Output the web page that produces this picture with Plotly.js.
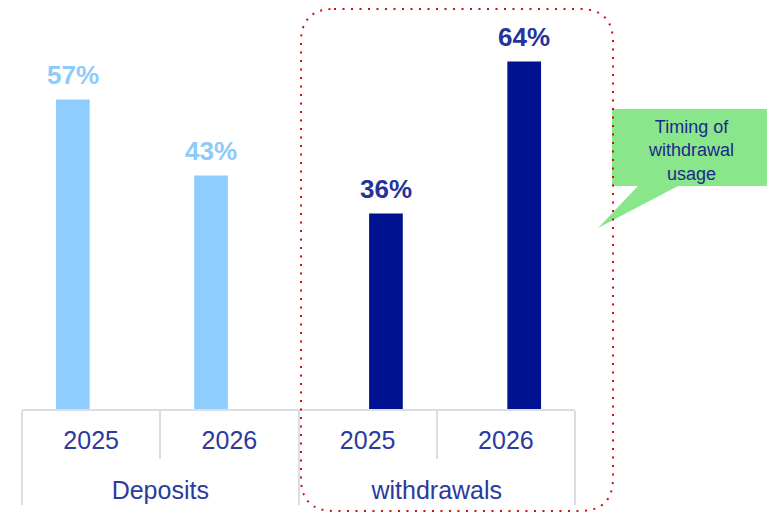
<!DOCTYPE html>
<html>
<head>
<meta charset="utf-8">
<script src="https://cdn.plot.ly/plotly-3.0.1.min.js"></script>
<style>html,body{margin:0;padding:0;background:#fff;}#chart{width:769px;height:514px;}</style>
</head>
<body>
<div id="chart"></div>
<script>
// ---- data ----
const groups = ['Deposits', 'Deposits', 'withdrawals', 'withdrawals'];
const years = ['2025', '2026', '2025', '2026'];
const depositShare = [57, 43, null, null];
const withdrawalShare = [null, null, 36, 64];
const calloutText = 'Timing of<br>withdrawal<br>usage';

// ---- layout geometry ----
const W = 769, H = 514;
const M = {l: 22, r: 194, t: 10, b: 105};
const PW = W - M.l - M.r, PH = H - M.t - M.b;
const fx = px => (px - M.l) / PW;
const fy = py => (M.t + PH - py) / PH;

const font = 'Arial, "Liberation Sans", sans-serif';
const light = '#8ECDFD', dark = '#00128F';
const lightText = '#8DCBFB', darkText = '#26339A';
const gridGray = '#DADDE3';
const BARGAP = 0.47;

const big = s => '<span style="font-size:25px">' + s + '</span>';
const xLevels = [groups.map(g => '<br>' + big(g)), years.map(big)];

const traces = [
  {type: 'bar', name: 'Deposits', x: xLevels, y: depositShare,
   marker: {color: light}, hoverinfo: 'skip'},
  {type: 'bar', name: 'withdrawals', x: xLevels, y: withdrawalShare,
   marker: {color: dark}, hoverinfo: 'skip'}
];

// value labels above bars, anchored to each bar's category index and value
const slotPx = (1 - BARGAP) / 4 * (PW / years.length);
const valueLabels = [];
[[depositShare, -slotPx, lightText], [withdrawalShare, slotPx, darkText]].forEach(([vals, dx, col]) => {
  vals.forEach((v, i) => {
    if (v == null) return;
    valueLabels.push({xref: 'x', yref: 'y', x: i, y: v, xshift: dx, yshift: 8,
      text: v + '%', showarrow: false, xanchor: 'center', yanchor: 'bottom',
      font: {family: font, size: 26, color: col, weight: 'bold'}});
  });
});

function roundRect(x0, y0, x1, y1, r) {
  const P = (x, y) => fx(x).toFixed(5) + ',' + fy(y).toFixed(5);
  return 'M' + P(x0 + r, y0) + ' L' + P(x1 - r, y0) + ' Q' + P(x1, y0) + ' ' + P(x1, y0 + r) +
    ' L' + P(x1, y1 - r) + ' Q' + P(x1, y1) + ' ' + P(x1 - r, y1) +
    ' L' + P(x0 + r, y1) + ' Q' + P(x0, y1) + ' ' + P(x0, y1 - r) +
    ' L' + P(x0, y0 + r) + ' Q' + P(x0, y0) + ' ' + P(x0 + r, y0) + ' Z';
}
function poly(pts) {
  return 'M' + pts.map(p => fx(p[0]).toFixed(5) + ',' + fy(p[1]).toFixed(5)).join(' L') + ' Z';
}

const layout = {
  width: W, height: H,
  margin: M,
  paper_bgcolor: '#fff', plot_bgcolor: '#fff',
  showlegend: false,
  barmode: 'group', bargap: BARGAP, bargroupgap: 0.08,
  font: {family: font, color: '#2B3A9E'},
  xaxis: {type: 'multicategory', showline: true, linecolor: gridGray, linewidth: 2,
    ticks: 'outside', ticklen: 48, tickwidth: 2, tickcolor: gridGray,
    showdividers: true, dividercolor: gridGray, dividerwidth: 2, ticklabelstandoff: 10,
    tickfont: {family: font, size: 23, color: '#2B3A9E'}, showgrid: false, zeroline: false,
    fixedrange: true},
  yaxis: {visible: false, range: [0, 73.5], fixedrange: true},
  shapes: [
    {type: 'path', xref: 'paper', yref: 'paper', path: poly([[612, 109], [767, 109], [767, 186], [678, 186], [598, 228], [638, 186], [612, 186]]),
     fillcolor: '#8AE68A', line: {width: 0}, layer: 'above'},
    {type: 'path', xref: 'paper', yref: 'paper', path: roundRect(301, 9, 613, 511, 33),
     line: {color: '#C81010', width: 2, dash: '2px,6.5px'}, layer: 'above'}
  ],
  annotations: valueLabels.concat([
    {xref: 'paper', yref: 'paper', x: fx(691), y: fy(150), text: calloutText, showarrow: false,
     font: {family: font, size: 18, color: '#1A2A8C'}, align: 'center', xanchor: 'center', yanchor: 'middle'}
  ])
};

Plotly.newPlot('chart', traces, layout, {displayModeBar: false, staticPlot: true});
</script>
</body>
</html>
